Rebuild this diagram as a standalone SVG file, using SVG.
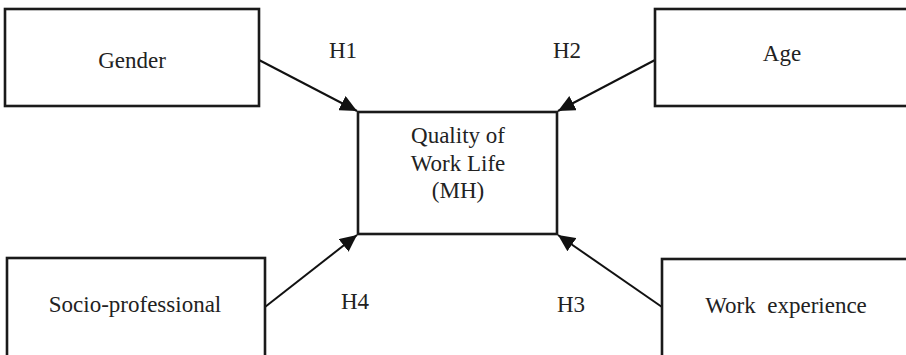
<svg xmlns="http://www.w3.org/2000/svg" width="906" height="355" viewBox="0 0 906 355">
<defs>
<style>
.box{fill:#fff;stroke:#1a1a1a;stroke-width:2.6}
.t{font-family:"Liberation Serif","Times New Roman",serif;font-size:23px;fill:#222;text-anchor:middle;white-space:pre}
.c{stroke:#111;stroke-width:2;fill:none;marker-end:url(#ah)}
</style>
<marker id="ah" markerUnits="userSpaceOnUse" markerWidth="18" markerHeight="16" viewBox="0 0 18 16" refX="17" refY="8" orient="auto">
<path d="M0,0 L17,8 L0,16 Z" fill="#111"/>
</marker>
</defs>
<rect width="906" height="355" fill="#fff"/>
<g id="connectors">
<line class="c" x1="259" y1="60" x2="357" y2="111"/>
<line class="c" x1="655" y1="60" x2="558" y2="111"/>
<line class="c" x1="265" y1="307" x2="357" y2="235"/>
<line class="c" x1="662" y1="307" x2="558" y2="235"/>
<text class="t" x="343" y="58">H1</text>
<text class="t" x="567" y="58">H2</text>
<text class="t" x="571" y="312">H3</text>
<text class="t" x="355" y="309">H4</text>
</g>
<g id="gender">
<rect class="box" x="5" y="9" width="254" height="97"/>
<text class="t" x="132" y="68">Gender</text>
</g>
<g id="age">
<rect class="box" x="655" y="9" width="260" height="97"/>
<text class="t" x="782" y="61">Age</text>
</g>
<g id="qwl">
<rect class="box" x="358" y="112" width="199" height="122"/>
<text class="t" x="458" y="143">Quality of</text>
<text class="t" x="458" y="171">Work Life</text>
<text class="t" x="458" y="198">(MH)</text>
</g>
<g id="socio">
<rect class="box" x="7" y="258" width="258" height="105"/>
<text class="t" x="135" y="312">Socio-professional</text>
</g>
<g id="work">
<rect class="box" x="662" y="259" width="260" height="104"/>
<text class="t" x="786" y="313">Work  experience</text>
</g>
</svg>
